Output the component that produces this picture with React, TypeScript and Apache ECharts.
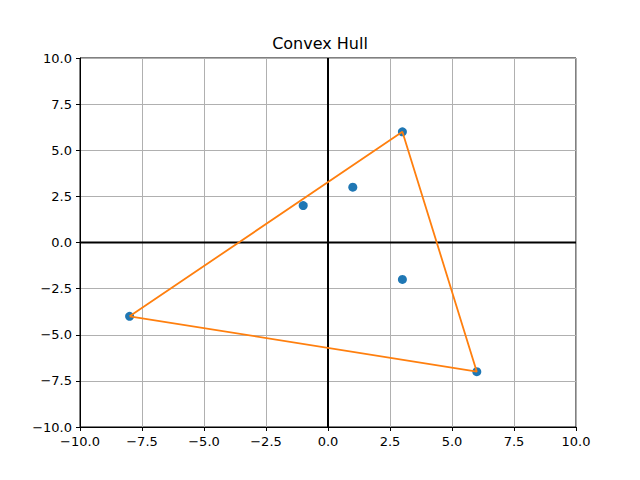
import React, { useEffect, useRef } from "react";
import * as echarts from "echarts";

const pointsX = [3, 1, -1, 3, -8, 6];
const pointsY = [6, 3, 2, -2, -4, -7];
const hullX = [-8, 3, 6, -8];
const hullY = [-4, 6, -7, -4];
const axisMin = -10;
const axisMax = 10;
const tickStep = 2.5;

const fmt = (v: number) => v.toFixed(1).replace("-", "\u2212");

export default function App() {
  const ref = useRef<HTMLDivElement>(null);
  useEffect(() => {
    document.body.style.margin = "0";
    const chart = echarts.init(ref.current!, null, { renderer: "svg" });
    const axisCommon = {
      type: "value" as const,
      min: axisMin,
      max: axisMax,
      interval: tickStep,
      axisLine: { show: true, onZero: false, lineStyle: { color: "#000", width: 1 } },
      axisTick: { show: true, length: 4, inside: false, lineStyle: { color: "#000", width: 1 } },
      axisLabel: {
        formatter: fmt,
        color: "#000",
        fontSize: 13,
        fontFamily: "DejaVu Sans",
      },
      splitLine: { show: true, lineStyle: { color: "#b0b0b0", width: 1 } },
    };
    chart.setOption({
      animation: false,
      backgroundColor: "#fff",
      title: {
        text: "Convex Hull",
        left: "center",
        top: 30,
        textStyle: { fontFamily: "DejaVu Sans", fontSize: 16, fontWeight: "normal", color: "#000" },
      },
      grid: {
        left: 80,
        right: 64,
        top: 58,
        bottom: 53,
        show: true,
        borderColor: "#000",
        borderWidth: 1,
        containLabel: false,
      },
      xAxis: { ...axisCommon, axisLabel: { ...axisCommon.axisLabel, margin: 8 } },
      yAxis: { ...axisCommon, axisLabel: { ...axisCommon.axisLabel, margin: 8 } },
      series: [
        {
          type: "line",
          data: [[axisMin, 0], [axisMax, 0]],
          symbol: "none",
          lineStyle: { color: "#000", width: 2 },
          silent: true,
          z: 1,
        },
        {
          type: "line",
          data: [[0, axisMin], [0, axisMax]],
          symbol: "none",
          lineStyle: { color: "#000", width: 2 },
          silent: true,
          z: 1,
        },
        {
          type: "scatter",
          data: pointsX.map((x, i) => [x, pointsY[i]]),
          symbolSize: 9,
          itemStyle: { color: "#1f77b4", opacity: 1 },
          z: 2,
        },
        {
          type: "line",
          data: hullX.map((x, i) => [x, hullY[i]]),
          symbol: "none",
          lineStyle: { color: "#ff7f0e", width: 1.8 },
          z: 3,
        },
      ],
    });
    return () => chart.dispose();
  }, []);
  return <div ref={ref} style={{ width: 640, height: 480 }} />;
}
